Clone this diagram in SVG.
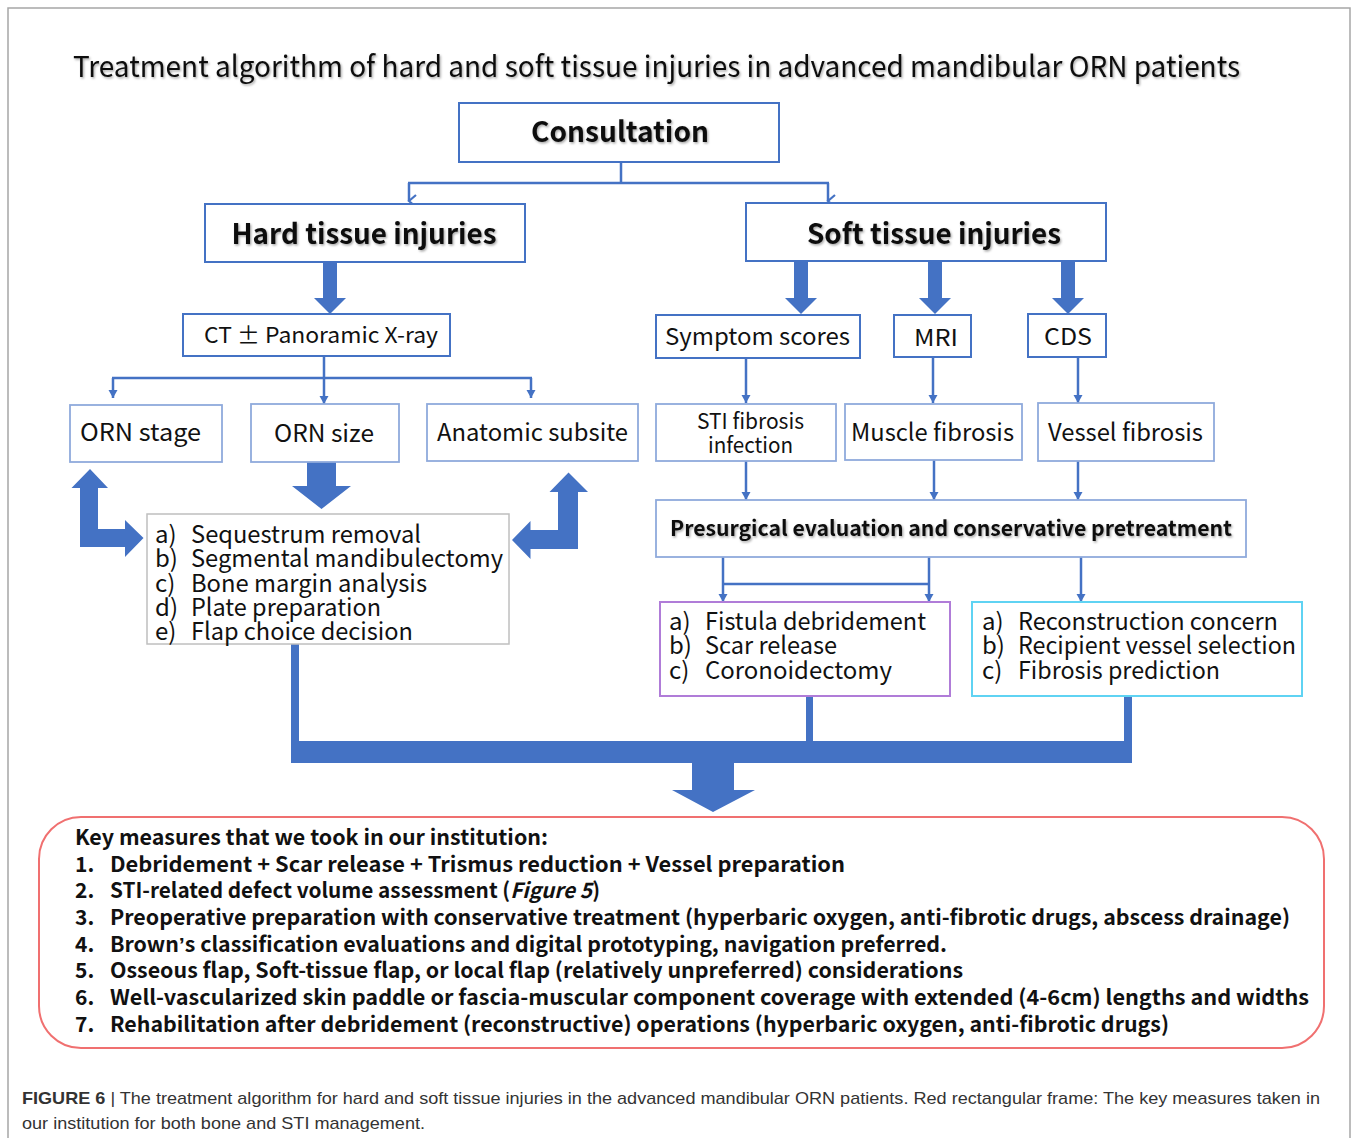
<svg xmlns="http://www.w3.org/2000/svg" width="1356" height="1138" viewBox="0 0 1356 1138">
<style>
.frame{fill:#fff;stroke:#a6a6a6;stroke-width:1.5}
.bx{fill:#fff;stroke:#4472c4;stroke-width:2}
.bxl{fill:#fff;stroke:#8faadc;stroke-width:1.8}
.bxg{fill:#fff;stroke:#bfbfbf;stroke-width:1.5}
.bxp{fill:#fff;stroke:#b07cd8;stroke-width:2}
.bxc{fill:#fff;stroke:#5fd3f3;stroke-width:2}
.bxr{fill:#fff;stroke:#f07070;stroke-width:2}
.ln{fill:none;stroke:#4472c4;stroke-width:2.5}
.blk{fill:#4472c4}
.t{font-family:"Noto Sans CJK SC","Noto Sans",sans-serif;fill:#111}
.b{font-weight:bold}
.k{font-family:"Noto Sans CJK SC","Noto Sans",sans-serif;fill:#111;font-size:21px;font-weight:bold}
.cap{font-family:"Liberation Sans",Arial,sans-serif;fill:#333;font-size:17px}
</style>
<defs>
<filter id="sh" x="-5%" y="-20%" width="110%" height="150%">
<feDropShadow dx="1.2" dy="1.5" stdDeviation="0.8" flood-color="#000" flood-opacity="0.35"/>
</filter>
<marker id="v" markerUnits="userSpaceOnUse" markerWidth="14" markerHeight="12" refX="7" refY="10" orient="auto" viewBox="0 0 14 12">
<path d="M1,3 L7,10 L13,3" fill="none" stroke="#4472c4" stroke-width="2.2"/>
</marker>
<marker id="tri" markerUnits="userSpaceOnUse" markerWidth="10" markerHeight="10" refX="8" refY="5" orient="auto" viewBox="0 0 10 10">
<path d="M0,0.5 L8,5 L0,9.5 Z" fill="#4472c4"/>
</marker>
</defs>

<rect class="frame" x="8" y="8" width="1342" height="1150"/>

<text class="t" x="73" y="77" font-size="29" textLength="1167" lengthAdjust="spacingAndGlyphs" filter="url(#sh)">Treatment algorithm of hard and soft tissue injuries in advanced mandibular ORN patients</text>

<g id="connectors">
<path class="ln" d="M621,162 V183 M408,183 H829"/>
<path class="ln" d="M409,183 V201" marker-end="url(#v)"/>
<path class="ln" d="M828,183 V201" marker-end="url(#v)"/>
<path class="ln" d="M324,356 V378 M112,378 H532"/>
<path class="ln" d="M113,378 V398" marker-end="url(#tri)"/>
<path class="ln" d="M324,378 V404" marker-end="url(#tri)"/>
<path class="ln" d="M531,378 V398" marker-end="url(#tri)"/>
<path class="ln" d="M746,358 V403" marker-end="url(#tri)"/>
<path class="ln" d="M933,357 V403" marker-end="url(#tri)"/>
<path class="ln" d="M1078,357 V403" marker-end="url(#tri)"/>
<path class="ln" d="M746,461 V500" marker-end="url(#tri)"/>
<path class="ln" d="M934,460 V500" marker-end="url(#tri)"/>
<path class="ln" d="M1078,461 V500" marker-end="url(#tri)"/>
<path class="ln" d="M723,584 H929"/>
<path class="ln" d="M723,557 V602" marker-end="url(#tri)"/>
<path class="ln" d="M929,557 V602" marker-end="url(#tri)"/>
<path class="ln" d="M1081,557 V602" marker-end="url(#tri)"/>
<polygon class="blk" points="323,263 337,263 337,298 346,298 330,314 314,298 323,298"/>
<polygon class="blk" points="794,262 808,262 808,298 817,298 801,314 785,298 794,298"/>
<polygon class="blk" points="928,262 942,262 942,298 951,298 935,314 919,298 928,298"/>
<polygon class="blk" points="1061,262 1075,262 1075,298 1084,298 1068,314 1052,298 1061,298"/>
<polygon class="blk" points="307,462 336,462 336,486 351,486 321.5,509 292,486 307,486"/>
<polygon class="blk" points="80,488 80,547 125,547 125,557 143.5,538 125,520 125,529 98,529 98,488 108,488 90,469 71.5,488"/>
<polygon class="blk" points="578,492 578,549 530.5,549 530.5,559 512,540 530.5,521 530.5,530 558,530 558,492 549.5,492 568.5,472.5 588,492"/>
<rect class="blk" x="291" y="644" width="8" height="100"/>
<rect class="blk" x="806" y="696" width="7" height="48"/>
<rect class="blk" x="1124" y="696" width="8" height="48"/>
<rect class="blk" x="291" y="741" width="841" height="22"/>
<polygon class="blk" points="692,762 734,762 734,790 755,790 713,812 672,790 692,790"/>
</g>

<g id="consultation">
<rect class="bx" x="459" y="103" width="320" height="59"/>
<text class="t b" x="620" y="142" font-size="28" text-anchor="middle" textLength="178" lengthAdjust="spacingAndGlyphs" filter="url(#sh)">Consultation</text>
</g>
<g id="hard">
<rect class="bx" x="205" y="204" width="320" height="58"/>
<text class="t b" x="364" y="244" font-size="28" text-anchor="middle" textLength="265" lengthAdjust="spacingAndGlyphs" filter="url(#sh)">Hard tissue injuries</text>
</g>
<g id="soft">
<rect class="bx" x="746" y="203" width="360" height="58"/>
<text class="t b" x="934" y="244" font-size="28" text-anchor="middle" textLength="254" lengthAdjust="spacingAndGlyphs" filter="url(#sh)">Soft tissue injuries</text>
</g>
<g id="ct">
<rect class="bx" x="183" y="314" width="267" height="42"/>
<text class="t" x="204" y="343" font-size="22" textLength="234" lengthAdjust="spacingAndGlyphs">CT ± Panoramic X-ray</text>
</g>
<g id="ornstage">
<rect class="bxl" x="70" y="405" width="152" height="57"/>
<text class="t" x="80" y="441" font-size="24" textLength="121" lengthAdjust="spacingAndGlyphs">ORN stage</text>
</g>
<g id="ornsize">
<rect class="bxl" x="251" y="404" width="148" height="58"/>
<text class="t" x="274" y="442" font-size="24" textLength="100" lengthAdjust="spacingAndGlyphs">ORN size</text>
</g>
<g id="subsite">
<rect class="bxl" x="427" y="404" width="211" height="57"/>
<text class="t" x="437" y="441" font-size="24" textLength="191" lengthAdjust="spacingAndGlyphs">Anatomic subsite</text>
</g>
<g id="bonelist">
<rect class="bxg" x="147" y="514" width="362" height="130"/>
<g class="t" font-size="24">
<text x="155" y="543">a)</text><text x="191" y="543" textLength="230" lengthAdjust="spacingAndGlyphs">Sequestrum removal</text>
<text x="155" y="567">b)</text><text x="191" y="567" textLength="312" lengthAdjust="spacingAndGlyphs">Segmental mandibulectomy</text>
<text x="155" y="592">c)</text><text x="191" y="592" textLength="236" lengthAdjust="spacingAndGlyphs">Bone margin analysis</text>
<text x="155" y="616">d)</text><text x="191" y="616" textLength="190" lengthAdjust="spacingAndGlyphs">Plate preparation</text>
<text x="155" y="640">e)</text><text x="191" y="640" textLength="222" lengthAdjust="spacingAndGlyphs">Flap choice decision</text>
</g>
</g>
<g id="symptom">
<rect class="bx" x="656" y="315" width="204" height="43"/>
<text class="t" x="665" y="345" font-size="23" textLength="185" lengthAdjust="spacingAndGlyphs">Symptom scores</text>
</g>
<g id="mri">
<rect class="bx" x="894" y="315" width="77" height="42"/>
<text class="t" x="914" y="346" font-size="23" textLength="44" lengthAdjust="spacingAndGlyphs">MRI</text>
</g>
<g id="cds">
<rect class="bx" x="1028" y="314" width="78" height="43"/>
<text class="t" x="1044" y="345" font-size="23" textLength="48" lengthAdjust="spacingAndGlyphs">CDS</text>
</g>
<g id="sti">
<rect class="bxl" x="656" y="404" width="180" height="57"/>
<text class="t" x="750.5" y="429" font-size="22" text-anchor="middle" textLength="107" lengthAdjust="spacingAndGlyphs">STI fibrosis</text>
<text class="t" x="750.5" y="453" font-size="22" text-anchor="middle" textLength="85" lengthAdjust="spacingAndGlyphs">infection</text>
</g>
<g id="muscle">
<rect class="bxl" x="845" y="404" width="177" height="56"/>
<text class="t" x="851" y="441" font-size="24" textLength="163" lengthAdjust="spacingAndGlyphs">Muscle fibrosis</text>
</g>
<g id="vessel">
<rect class="bxl" x="1038" y="403" width="176" height="58"/>
<text class="t" x="1048" y="441" font-size="24" textLength="155" lengthAdjust="spacingAndGlyphs">Vessel fibrosis</text>
</g>
<g id="presurgical">
<rect class="bxl" x="656" y="500" width="590" height="57"/>
<text class="t b" x="670" y="536" font-size="21" textLength="562" lengthAdjust="spacingAndGlyphs" filter="url(#sh)">Presurgical evaluation and conservative pretreatment</text>
</g>
<g id="softlist1">
<rect class="bxp" x="660" y="602" width="290" height="94"/>
<g class="t" font-size="24">
<text x="669" y="630">a)</text><text x="705" y="630" textLength="221" lengthAdjust="spacingAndGlyphs">Fistula debridement</text>
<text x="669" y="654">b)</text><text x="705" y="654" textLength="132" lengthAdjust="spacingAndGlyphs">Scar release</text>
<text x="669" y="679">c)</text><text x="705" y="679" textLength="187" lengthAdjust="spacingAndGlyphs">Coronoidectomy</text>
</g>
</g>
<g id="softlist2">
<rect class="bxc" x="972" y="602" width="330" height="94"/>
<g class="t" font-size="24">
<text x="982" y="630">a)</text><text x="1018" y="630" textLength="260" lengthAdjust="spacingAndGlyphs">Reconstruction concern</text>
<text x="982" y="654">b)</text><text x="1018" y="654" textLength="278" lengthAdjust="spacingAndGlyphs">Recipient vessel selection</text>
<text x="982" y="679">c)</text><text x="1018" y="679" textLength="202" lengthAdjust="spacingAndGlyphs">Fibrosis prediction</text>
</g>
</g>
<g id="keymeasures">
<rect class="bxr" x="39" y="817" width="1285" height="231" rx="42" ry="42"/>
<text class="k" x="75" y="845" textLength="473" lengthAdjust="spacingAndGlyphs">Key measures that we took in our institution:</text>
<text class="k" x="75" y="872">1.</text><text class="k" x="110" y="872" textLength="735" lengthAdjust="spacingAndGlyphs">Debridement + Scar release + Trismus reduction + Vessel preparation</text>
<text class="k" x="75" y="898">2.</text><text class="k" x="110" y="898" textLength="490" lengthAdjust="spacingAndGlyphs">STI-related defect volume assessment (<tspan font-style="italic">Figure 5</tspan>)</text>
<text class="k" x="75" y="925">3.</text><text class="k" x="110" y="925" textLength="1180" lengthAdjust="spacingAndGlyphs">Preoperative preparation with conservative treatment (hyperbaric oxygen, anti-fibrotic drugs, abscess drainage)</text>
<text class="k" x="75" y="952">4.</text><text class="k" x="110" y="952" textLength="837" lengthAdjust="spacingAndGlyphs">Brown<tspan font-family="'Liberation Sans',Arial,sans-serif">’</tspan>s classification evaluations and digital prototyping, navigation preferred.</text>
<text class="k" x="75" y="978">5.</text><text class="k" x="110" y="978" textLength="853" lengthAdjust="spacingAndGlyphs">Osseous flap, Soft-tissue flap, or local flap (relatively unpreferred) considerations</text>
<text class="k" x="75" y="1005">6.</text><text class="k" x="110" y="1005" textLength="1199" lengthAdjust="spacingAndGlyphs">Well-vascularized skin paddle or fascia-muscular component coverage with extended (4-6cm) lengths and widths</text>
<text class="k" x="75" y="1032">7.</text><text class="k" x="110" y="1032" textLength="1059" lengthAdjust="spacingAndGlyphs">Rehabilitation after debridement (reconstructive) operations (hyperbaric oxygen, anti-fibrotic drugs)</text>
</g>

<g id="caption">
<text class="cap" x="22" y="1104" textLength="1298" lengthAdjust="spacingAndGlyphs"><tspan font-weight="bold">FIGURE 6</tspan> | The treatment algorithm for hard and soft tissue injuries in the advanced mandibular ORN patients. Red rectangular frame: The key measures taken in</text>
<text class="cap" x="22" y="1129" textLength="403" lengthAdjust="spacingAndGlyphs">our institution for both bone and STI management.</text>
</g>
</svg>
